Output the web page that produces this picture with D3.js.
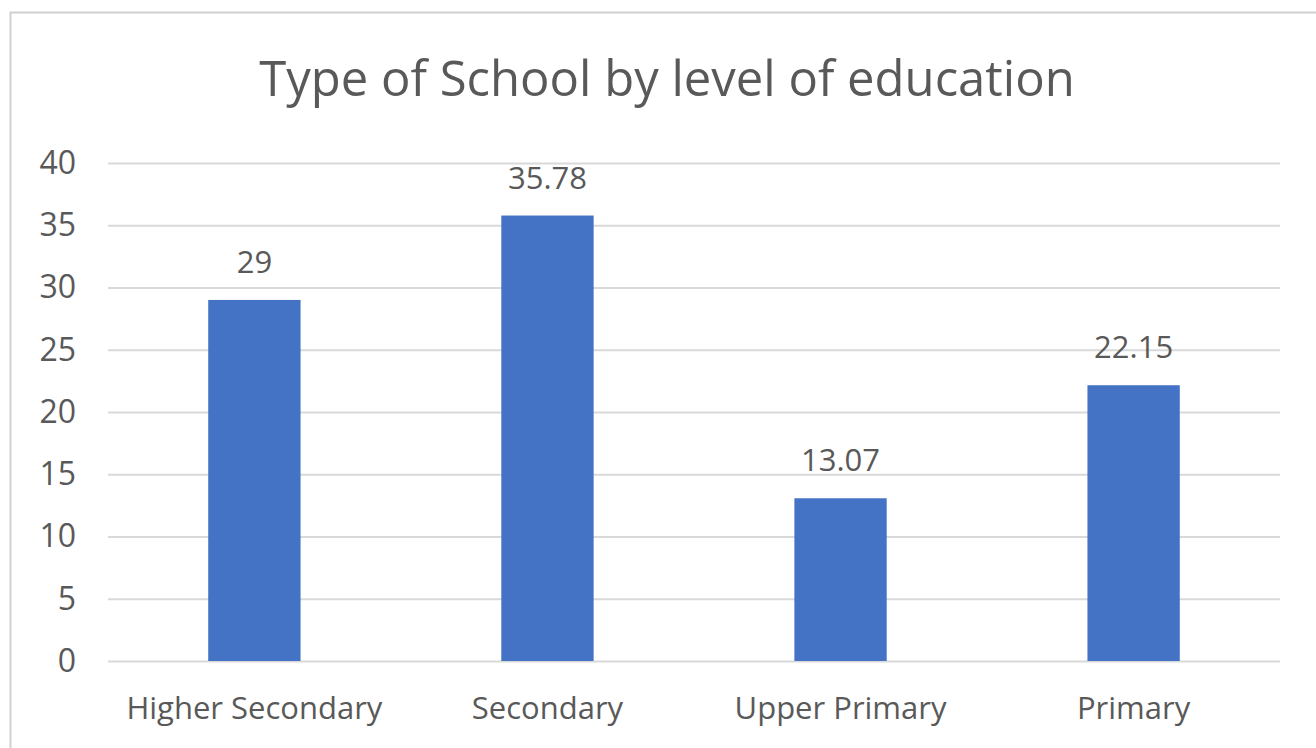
<!DOCTYPE html>
<html>
<head>
<meta charset="utf-8">
<script src="https://cdn.jsdelivr.net/npm/d3@7"></script>
<style>
  body { margin: 0; background: #fff; }
  text { font-family: "Open Sans", "Noto Sans", sans-serif; fill: #595959; }
</style>
</head>
<body>
<div id="chart"></div>
<script>
// chart values
var categories = ["Higher Secondary", "Secondary", "Upper Primary", "Primary"];
var values = [29, 35.78, 13.07, 22.15];
var valueLabels = ["29", "35.78", "13.07", "22.15"];
var yTicks = [0, 5, 10, 15, 20, 25, 30, 35, 40];
var title = "Type of School by level of education";

var svgWidth = 1316;
var svgHeight = 748;

var margin = { top: 163, right: 36, bottom: 87, left: 108 };
var width = svgWidth - margin.left - margin.right;
var height = svgHeight - margin.top - margin.bottom;

var svg = d3.select("#chart")
    .append("svg")
    .attr("width", svgWidth)
    .attr("height", svgHeight);

// outer frame
svg.append("rect")
    .attr("x", 10.5)
    .attr("y", 12.5)
    .attr("width", svgWidth)
    .attr("height", svgHeight)
    .attr("fill", "none")
    .attr("stroke", "#d0d0d0")
    .attr("stroke-width", 2);

svg.append("text")
    .attr("x", 667)
    .attr("y", 96)
    .attr("text-anchor", "middle")
    .style("font-size", "49px")
    .text(title);

var chartGroup = svg.append("g")
    .attr("transform", `translate(${margin.left}, ${margin.top})`);

var xScale = d3.scaleBand()
    .domain(categories)
    .range([0, width])
    .paddingInner(0.685)
    .paddingOuter(0.342);

var yScale = d3.scaleLinear()
    .domain([0, 40])
    .range([height, 0]);

// gridlines
var leftAxis = d3.axisLeft(yScale)
    .tickValues(yTicks)
    .tickSize(-width)
    .tickPadding(32);

var yAxis = chartGroup.append("g")
    .call(leftAxis);
yAxis.select(".domain").remove();
yAxis.selectAll("line")
    .attr("stroke", "#d9d9d9")
    .attr("stroke-width", 2);
yAxis.selectAll("text")
    .style("font-size", "32px")
    .attr("fill", "#595959");

// bars
chartGroup.selectAll(".bar")
    .data(values)
    .enter()
    .append("rect")
    .attr("class", "bar")
    .attr("x", function(d, i) { return xScale(categories[i]); })
    .attr("y", function(d) { return yScale(d); })
    .attr("width", xScale.bandwidth())
    .attr("height", function(d) { return height - yScale(d); })
    .attr("fill", "#4472C4");

// value labels
chartGroup.selectAll(".val")
    .data(values)
    .enter()
    .append("text")
    .attr("class", "val")
    .attr("x", function(d, i) { return xScale(categories[i]) + xScale.bandwidth() / 2; })
    .attr("y", function(d) { return yScale(d) - 27; })
    .attr("text-anchor", "middle")
    .style("font-size", "31px")
    .text(function(d, i) { return valueLabels[i]; });

// category axis
var bottomAxis = d3.axisBottom(xScale).tickSize(0);
var xAxis = chartGroup.append("g")
    .attr("transform", `translate(0, ${height})`)
    .call(bottomAxis);
xAxis.select(".domain").remove();
xAxis.selectAll("text")
    .attr("y", 58)
    .attr("dy", 0)
    .style("font-size", "31px")
    .attr("fill", "#595959");
</script>
</body>
</html>
